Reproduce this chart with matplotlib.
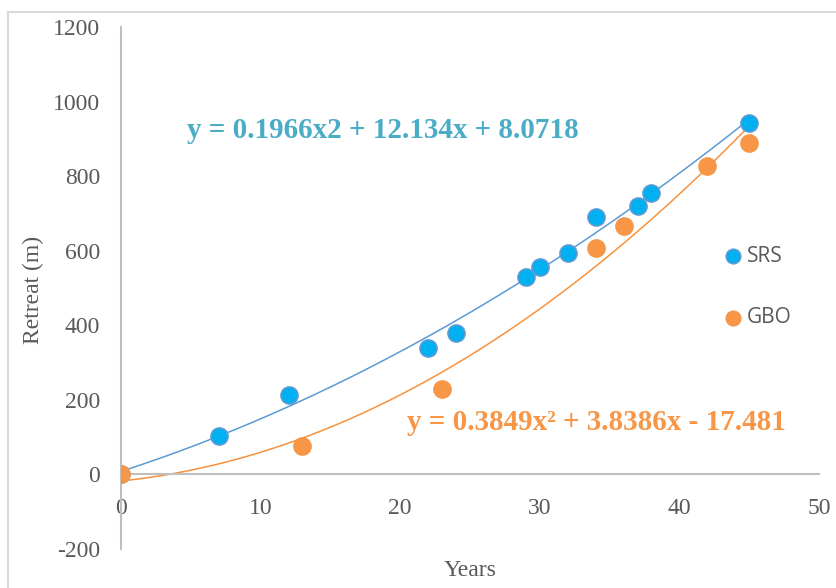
import numpy as np
import matplotlib.pyplot as plt
from matplotlib.patches import Rectangle

# данные
srs_years = [0, 7, 12, 22, 24, 29, 30, 32, 34, 37, 38, 45]
srs_retreat = [0, 104, 214, 340, 380, 530, 557, 594, 690, 720, 755, 943]
gbo_years = [0, 13, 23, 34, 36, 42, 45]
gbo_retreat = [0, 75, 228, 608, 665, 826, 889]

# коэффициенты трендов (из подписей на графике)
srs_fit = [0.1966, 12.134, 8.0718]
gbo_fit = [0.3849, 3.8386, -17.481]

gray = '#595959'
blue = '#00B0F0'
orange = '#F79646'

plt.rcParams['axes.unicode_minus'] = False

fig = plt.figure(figsize=(8.36, 5.88), dpi=100)
ax = fig.add_axes([121 / 836, 1 - 549 / 588, (819 - 121) / 836, (549 - 27) / 588])

# рамка вокруг рисунка
fig.patches.append(Rectangle((8 / 836, -0.05), 1.1, 1 - 12 / 588 + 0.05,
                             transform=fig.transFigure, fill=False,
                             edgecolor='#D9D9D9', linewidth=1.5))

xx = np.linspace(0, 45, 200)
ax.plot(xx, np.polyval(srs_fit, xx), color='#5B9BD5', lw=1.1, zorder=2)
ax.plot(xx, np.polyval(gbo_fit, xx), color='#F7923C', lw=1.1, zorder=2)

ax.scatter(srs_years, srs_retreat, s=150, color=blue, edgecolors='#5B9BD5',
           linewidths=1.2, zorder=3, label='SRS')
ax.scatter(gbo_years, gbo_retreat, s=150, color=orange, edgecolors=orange,
           linewidths=1.2, zorder=4, label='GBO')

ax.set_xlim(0, 50)
ax.set_ylim(-200, 1200)
ax.set_xticks(range(0, 51, 10))
ax.set_yticks(range(-200, 1201, 200))

for s in ['top', 'right']:
    ax.spines[s].set_visible(False)
ax.spines['bottom'].set_position(('data', 0))
for s in ['left', 'bottom']:
    ax.spines[s].set_color('#BFBFBF')
    ax.spines[s].set_linewidth(1.5)

serif = ['Liberation Serif', 'DejaVu Serif']
ax.tick_params(axis='both', length=0, labelsize=17, labelcolor=gray)
ax.tick_params(axis='x', pad=17)
ax.tick_params(axis='y', pad=15)
for lab in ax.get_xticklabels() + ax.get_yticklabels():
    lab.set_family(serif)

fig.text(470 / 836, 1 - 570 / 588, 'Years', ha='center', va='center',
         fontsize=17, color=gray, family=serif)
fig.text(33 / 836, 1 - 290 / 588, 'Retreat (m)', ha='center', va='center',
         rotation=90, fontsize=17, color=gray, family=serif)

fig.text(187 / 836, 1 - 131 / 588, 'y = 0.1966x2 + 12.134x + 8.0718',
         ha='left', va='center', fontsize=21, fontweight='bold',
         color='#4BACC6', family=serif)
fig.text(407 / 836, 1 - 422 / 588, 'y = 0.3849x² + 3.8386x - 17.481',
         ha='left', va='center', fontsize=21, fontweight='bold',
         color=orange, family=serif)

# легенда
leg = ax.legend(loc='upper left', bbox_to_anchor=(702 / 836, 1 - 227 / 588),
                bbox_transform=fig.transFigure, frameon=False,
                handlelength=1.2, handletextpad=0.05, labelspacing=1.95,
                markerscale=0.85,
                prop={'family': ['Open Sans', 'DejaVu Sans'], 'size': 15})
for t in leg.get_texts():
    t.set_color(gray)

fig.savefig('out.png', dpi=100)
